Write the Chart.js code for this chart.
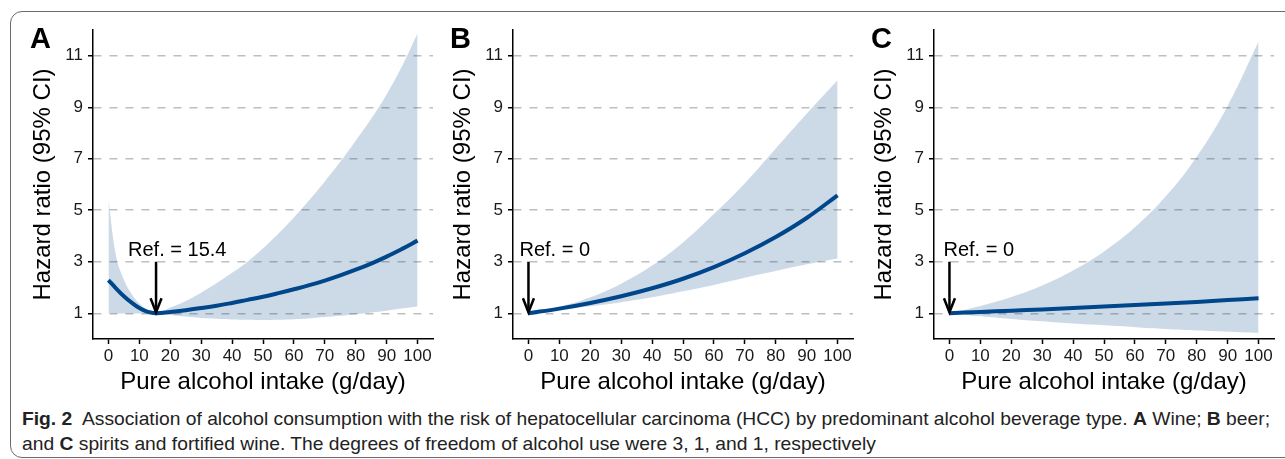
<!DOCTYPE html>
<html>
<head>
<meta charset="utf-8">
<script src="https://cdn.jsdelivr.net/npm/chart.js@4.4.0/dist/chart.umd.min.js"></script>
<style>
  html, body { margin: 0; padding: 0; background: #fff; }
  body { width: 1285px; height: 459px; position: relative; overflow: hidden; }
  .frame { position: absolute; left: 10px; top: 11px; width: 1300px; height: 445px;
           border: 1.5px solid #6b6b6b; border-radius: 12px; }
  canvas { position: absolute; top: 0; }
  .caption { position: absolute; left: 22px; top: 406px; color: #222;
             font-family: "Liberation Sans Narrow", "Liberation Sans", Arial, sans-serif;
             font-size: 19px; line-height: 25px; white-space: nowrap; transform-origin: 0 0; }
  .caption b { font-weight: bold; }
</style>
</head>
<body>
<div class="frame"></div>
<canvas id="chartA" width="440" height="400" style="left:0px"></canvas>
<canvas id="chartB" width="440" height="400" style="left:420px"></canvas>
<canvas id="chartC" width="440" height="400" style="left:841px"></canvas>
<div class="caption" id="caption">
  <div id="capLine1"><b>Fig. 2</b>&nbsp; Association of alcohol consumption with the risk of hepatocellular carcinoma (HCC) by predominant alcohol beverage type. <b>A</b> Wine; <b>B</b> beer;</div>
  <div id="capLine2">and <b>C</b> spirits and fortified wine. The degrees of freedom of alcohol use were 3, 1, and 1, respectively</div>
</div>
<script>
// tick labels
const xTicks = [0, 10, 20, 30, 40, 50, 60, 70, 80, 90, 100];
const yTicks = [1, 3, 5, 7, 9, 11];

// A: wine
const xA = [0, 2.5, 5, 7.5, 10, 12.5, 15.4, 20, 25, 30, 35, 40, 45, 50, 55, 60, 65, 70, 75, 80, 85, 90, 95, 100];
const hrA = [2.29, 1.96, 1.66, 1.41, 1.20, 1.06, 1.00, 1.05, 1.12, 1.20, 1.29, 1.40, 1.52, 1.64, 1.78, 1.93, 2.09, 2.27, 2.47, 2.69, 2.93, 3.20, 3.50, 3.82];
const lowA = [1.00, 0.99, 0.99, 0.99, 0.99, 0.99, 1.00, 0.93, 0.87, 0.82, 0.79, 0.76, 0.75, 0.74, 0.75, 0.77, 0.80, 0.85, 0.90, 0.96, 1.03, 1.10, 1.18, 1.26];
const upA = [5.40, 3.20, 2.30, 1.75, 1.38, 1.15, 1.00, 1.22, 1.48, 1.80, 2.17, 2.57, 3.00, 3.52, 4.10, 4.72, 5.40, 6.12, 6.88, 7.70, 8.55, 9.50, 10.60, 11.87];

// B: beer
const xB = [0, 10, 20, 30, 40, 50, 60, 70, 80, 90, 100];
const hrB = [1.00, 1.18, 1.40, 1.66, 1.97, 2.34, 2.79, 3.33, 3.96, 4.70, 5.58];
const lowB = [1.00, 1.12, 1.27, 1.43, 1.62, 1.85, 2.10, 2.38, 2.64, 2.90, 3.13];
const upB = [1.00, 1.25, 1.62, 2.15, 2.85, 3.75, 4.85, 6.05, 7.40, 8.75, 10.05];

// C: spirits and fortified wine
const xC = [0, 10, 20, 30, 40, 50, 60, 70, 80, 90, 100];
const hrC = [1.00, 1.05, 1.10, 1.15, 1.20, 1.26, 1.32, 1.38, 1.44, 1.51, 1.58];
const lowC = [1.00, 0.88, 0.78, 0.69, 0.60, 0.53, 0.46, 0.39, 0.33, 0.28, 0.23];
const upC = [1.00, 1.28, 1.63, 2.08, 2.66, 3.40, 4.34, 5.54, 7.08, 9.05, 11.55];

const refValues = [15.4, 0, 0];
const panelLetters = ['A', 'B', 'C'];

const lineColor = '#00468B';
const bandColor = 'rgba(0, 70, 139, 0.2)';
const axisFont = '"Liberation Sans", Arial, sans-serif';

function pts(xs, ys) {
  return xs.map((x, i) => ({ x: x, y: ys[i] }));
}

// arrow + "Ref." label + panel letter
const refPlugin = {
  id: 'refArrow',
  afterDatasetsDraw(chart, args, opts) {
    const ctx = chart.ctx;
    const xs = chart.scales.x;
    const ys = chart.scales.y;
    const ax = xs.getPixelForValue(opts.ref);
    const yTop = ys.getPixelForValue(3);
    const yBot = ys.getPixelForValue(1);
    ctx.save();
    ctx.strokeStyle = '#000';
    ctx.lineWidth = 2.5;
    ctx.beginPath();
    ctx.moveTo(ax, yTop);
    ctx.lineTo(ax, yBot - 1);
    ctx.stroke();
    ctx.beginPath();
    ctx.moveTo(ax - 5.5, yBot - 15);
    ctx.lineTo(ax, yBot - 1);
    ctx.lineTo(ax + 5.5, yBot - 15);
    ctx.stroke();

    ctx.fillStyle = '#000';
    ctx.font = '20px ' + axisFont;
    ctx.textAlign = 'left';
    ctx.textBaseline = 'alphabetic';
    ctx.fillText(opts.label, ax + opts.labelDx, yTop - 6);

    ctx.font = 'bold 29px ' + axisFont;
    ctx.fillText(opts.letter, chart.chartArea.left - 63, 48);
    ctx.restore();
  }
};

function makeChart(id, xs, hr, low, up, idx, labelDx) {
  const ctx = document.getElementById(id).getContext('2d');
  return new Chart(ctx, {
    type: 'line',
    data: {
      datasets: [
        {
          label: 'HR',
          data: pts(xs, hr),
          borderColor: lineColor,
          borderWidth: 4,
          pointRadius: 0,
          fill: false,
          tension: 0.4
        },
        {
          label: 'lower',
          data: pts(xs, low),
          borderWidth: 0,
          borderColor: 'rgba(0,0,0,0)',
          pointRadius: 0,
          fill: false,
          tension: 0.4
        },
        {
          label: 'upper',
          data: pts(xs, up),
          borderWidth: 0,
          borderColor: 'rgba(0,0,0,0)',
          backgroundColor: bandColor,
          pointRadius: 0,
          fill: 1,
          tension: 0.4
        }
      ]
    },
    options: {
      responsive: false,
      animation: false,
      events: [],
      layout: { padding: { top: 30, left: 0, right: 7, bottom: 0 } },
      plugins: {
        legend: { display: false },
        tooltip: { enabled: false },
        refArrow: {
          ref: refValues[idx],
          letter: panelLetters[idx],
          label: 'Ref. = ' + refValues[idx],
          labelDx: labelDx
        }
      },
      scales: {
        x: {
          type: 'linear',
          min: -5,
          max: 105,
          afterBuildTicks: (scale) => { scale.ticks = xTicks.map(v => ({ value: v })); },
          afterFit: (scale) => { scale.height = 61; },
          grid: {
            drawOnChartArea: false,
            drawTicks: true,
            tickLength: 5,
            tickColor: '#000',
            tickWidth: 1.5
          },
          border: { display: true, color: '#000', width: 1.5 },
          ticks: {
            padding: 2,
            color: '#1a1a1a',
            maxRotation: 0,
            autoSkip: false,
            font: { family: axisFont, size: 17 }
          },
          title: {
            display: true,
            text: 'Pure alcohol intake (g/day)',
            color: '#000',
            font: { family: axisFont, size: 24 },
            padding: { top: 0, bottom: 3.6 }
          }
        },
        y: {
          type: 'linear',
          min: 0,
          max: 12,
          afterBuildTicks: (scale) => { scale.ticks = yTicks.map(v => ({ value: v })); },
          afterFit: (scale) => { scale.width = 93; },
          grid: {
            color: '#bebebe',
            lineWidth: 1.5,
            drawTicks: true,
            tickLength: 5,
            tickColor: '#000',
            tickWidth: 1.5,
            tickBorderDash: []
          },
          border: { display: true, color: '#000', width: 1.5, dash: [8, 8] },
          ticks: {
            padding: 5,
            color: '#1a1a1a',
            autoSkip: false,
            font: { family: axisFont, size: 17 }
          },
          title: {
            display: true,
            text: 'Hazard ratio (95% CI)',
            color: '#000',
            font: { family: axisFont, size: 24 },
            padding: { top: 28.6, bottom: 0 }
          }
        }
      }
    },
    plugins: [refPlugin]
  });
}

makeChart('chartA', xA, hrA, lowA, upA, 0, -28);
makeChart('chartB', xB, hrB, lowB, upB, 1, -9);
makeChart('chartC', xC, hrC, lowC, upC, 2, -6);

// squeeze the caption so the first line spans the frame like the original
const cap = document.getElementById('caption');
const line1 = document.getElementById('capLine1');
const range = document.createRange();
range.selectNodeContents(line1);
const textW = range.getBoundingClientRect().width;
if (textW > 0) {
  cap.style.transform = 'scaleX(' + (1248 / textW) + ')';
}
</script>
</body>
</html>
